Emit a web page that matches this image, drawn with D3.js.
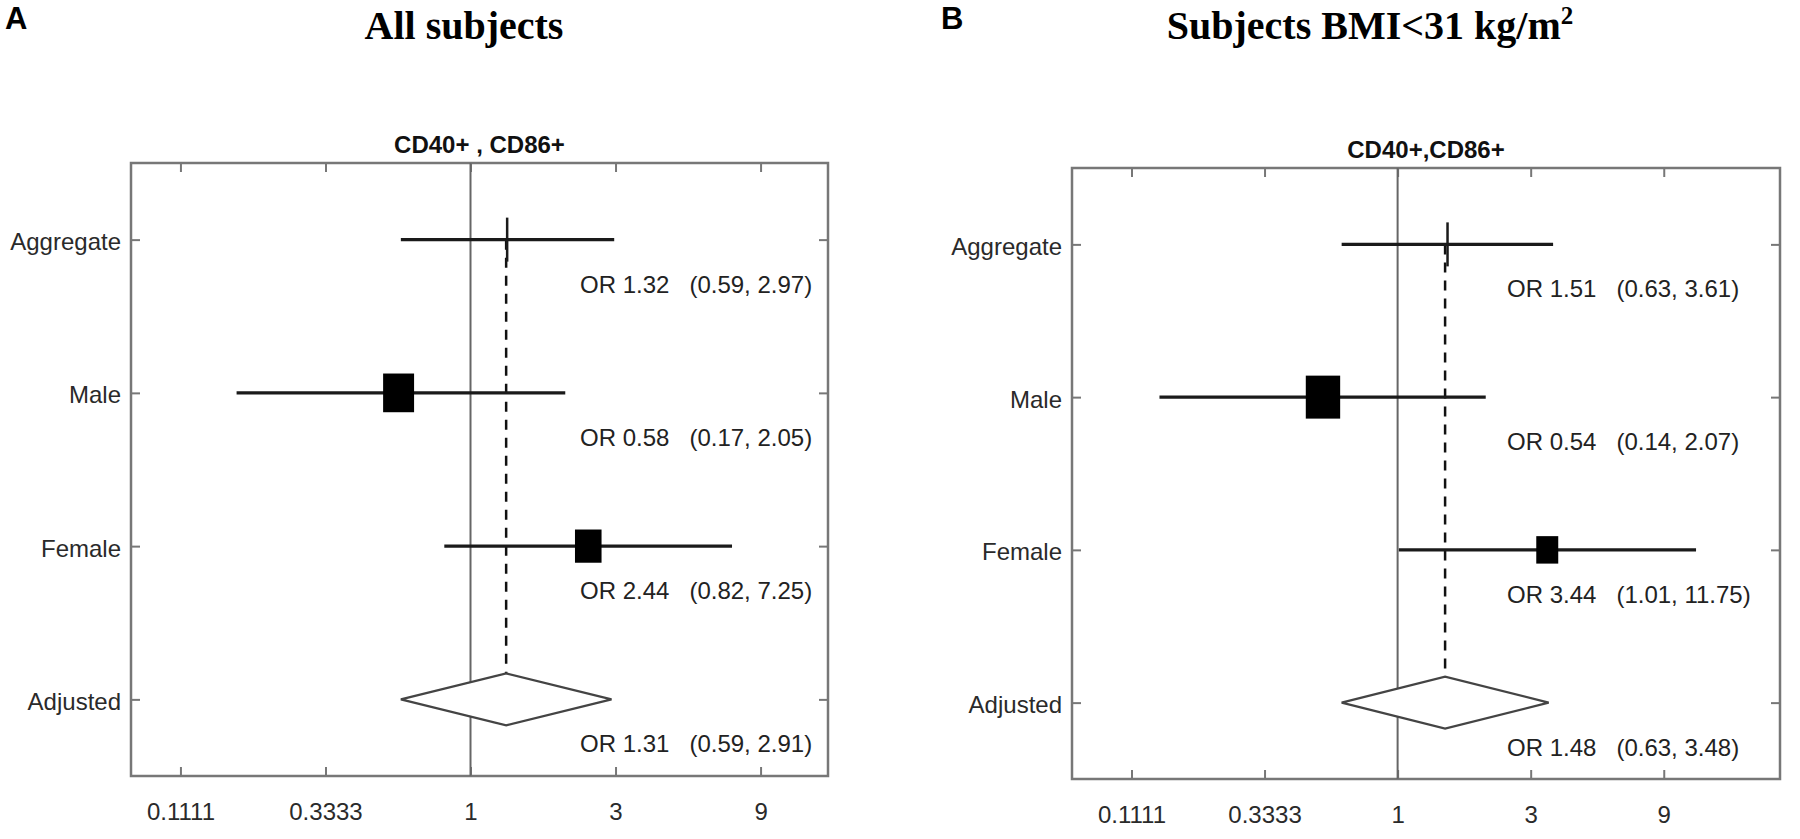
<!DOCTYPE html>
<html>
<head>
<meta charset="utf-8">
<script src="https://cdn.jsdelivr.net/npm/d3@7"></script>
<style>
  body { margin: 0; background: #fff; }
  svg { display: block; }
  .ortext { white-space: pre; }
</style>
</head>
<body>
<svg id="chart" width="1800" height="839"></svg>
<script>
// rows, shared by both panels
const rows = ["Aggregate", "Male", "Female", "Adjusted"]
const tickValues = [1 / 9, 1 / 3, 1, 3, 9]
const tickLabels = ["0.1111", "0.3333", "1", "3", "9"]

// panel A: all subjects
const orA = [1.32, 0.58, 2.44, 1.31]
const loA = [0.59, 0.17, 0.82, 0.59]
const hiA = [2.97, 2.05, 7.25, 2.91]
const weightA = [null, 57.6, 42.4, null]
const xLimA = [0.0764, 15.0]

// panel B: subjects BMI < 31
const orB = [1.51, 0.54, 3.44, 1.48]
const loB = [0.63, 0.14, 1.01, 0.63]
const hiB = [3.61, 2.07, 11.75, 3.48]
const weightB = [null, 71, 29, null]
const xLimB = [0.068, 23.5]

const sans = "'Liberation Sans', Arial, sans-serif"
const serif = "'Liberation Serif', 'Times New Roman', serif"
const fmt = d3.format(".2f")

const svg = d3.select("#chart")

function drawPanel(opts) {
  const x = d3.scaleLog().domain(opts.xLim).range([opts.left, opts.right])
  const y = d3.scaleLinear().domain([0.5, rows.length + 0.5]).range([opts.top, opts.bottom])
  const g = svg.append("g")

  // panel letter and titles
  g.append("text")
    .attr("x", opts.letterX).attr("y", 29)
    .attr("font-family", sans).attr("font-weight", "bold").attr("font-size", 31)
    .text(opts.letter)

  const title = g.append("text")
    .attr("x", opts.titleX).attr("y", 39)
    .attr("text-anchor", "middle")
    .attr("font-family", serif).attr("font-weight", "bold").attr("font-size", 40)
  title.append("tspan").text(opts.title)
  if (opts.titleSup) {
    title.append("tspan").attr("dy", -15).attr("font-size", 25).text(opts.titleSup)
  }

  g.append("text")
    .attr("x", (opts.left + opts.right) / 2).attr("y", opts.top - 10)
    .attr("text-anchor", "middle")
    .attr("font-family", sans).attr("font-weight", "bold").attr("font-size", 24)
    .attr("fill", "#111")
    .text(opts.subtitle)

  // axes (ticks pointing inward, matlab box style)
  const axisStyle = sel => {
    sel.select(".domain").remove()
    sel.selectAll(".tick line").attr("stroke", "#777").attr("stroke-width", 2)
    sel.selectAll(".tick text").attr("fill", "#2a2a2a")
    sel.attr("font-family", sans).attr("font-size", 24)
  }
  g.append("g")
    .attr("transform", `translate(0,${opts.bottom})`)
    .call(d3.axisBottom(x).tickValues(tickValues).tickSize(-9).tickPadding(27)
      .tickFormat((d, i) => tickLabels[i]))
    .call(axisStyle)
  g.append("g")
    .attr("transform", `translate(0,${opts.top})`)
    .call(d3.axisTop(x).tickValues(tickValues).tickSize(-9).tickFormat(""))
    .call(axisStyle)
  g.append("g")
    .attr("transform", `translate(${opts.left},0)`)
    .call(d3.axisLeft(y).tickValues(d3.range(1, rows.length + 1)).tickSize(-9).tickPadding(10)
      .tickFormat(d => rows[d - 1]))
    .call(axisStyle)
    .selectAll(".tick text").attr("dy", "0.42em")
  g.append("g")
    .attr("transform", `translate(${opts.right},0)`)
    .call(d3.axisRight(y).tickValues(d3.range(1, rows.length + 1)).tickSize(-9).tickFormat(""))
    .call(axisStyle)

  // frame
  g.append("rect")
    .attr("x", opts.left).attr("y", opts.top)
    .attr("width", opts.right - opts.left).attr("height", opts.bottom - opts.top)
    .attr("fill", "none").attr("stroke", "#777").attr("stroke-width", 2.5)

  // line of no effect
  g.append("line")
    .attr("x1", x(1)).attr("x2", x(1))
    .attr("y1", opts.top).attr("y2", opts.bottom)
    .attr("stroke", "#666").attr("stroke-width", 2)

  const data = rows.map((r, i) => ({
    row: r, pos: i + 1, or: opts.or[i], lo: opts.lo[i], hi: opts.hi[i], weight: opts.weight[i]
  }))
  const studies = data.slice(0, 3)
  const pooled = data[3]
  const diamondHalf = 26

  // dashed line at the pooled estimate
  g.append("line")
    .attr("x1", x(pooled.or)).attr("x2", x(pooled.or))
    .attr("y1", y(1)).attr("y2", y(pooled.pos) - diamondHalf)
    .attr("stroke", "#111").attr("stroke-width", 2.5)
    .attr("stroke-dasharray", "10,8")

  // confidence intervals
  g.selectAll(".ci").data(studies).enter().append("line")
    .attr("class", "ci")
    .attr("x1", d => x(d.lo)).attr("x2", d => x(d.hi))
    .attr("y1", d => y(d.pos)).attr("y2", d => y(d.pos))
    .attr("stroke", "#1a1a1a").attr("stroke-width", 3.2)

  // weighted boxes
  const boxH = d => 5.1 * Math.sqrt(d.weight)
  g.selectAll(".box").data(studies.filter(d => d.weight != null)).enter().append("rect")
    .attr("class", "box")
    .attr("x", d => x(d.or) - boxH(d) * 0.4).attr("y", d => y(d.pos) - boxH(d) / 2)
    .attr("width", d => boxH(d) * 0.8).attr("height", d => boxH(d))
    .attr("fill", "#000")

  // aggregate marker
  g.selectAll(".agg").data(studies.filter(d => d.weight == null)).enter().append("line")
    .attr("class", "agg")
    .attr("x1", d => x(d.or)).attr("x2", d => x(d.or))
    .attr("y1", d => y(d.pos) - 22).attr("y2", d => y(d.pos) + 22)
    .attr("stroke", "#1a1a1a").attr("stroke-width", 2.5)

  // pooled diamond
  g.append("path")
    .datum(pooled)
    .attr("d", d => {
      const cy = y(d.pos)
      return `M${x(d.lo)},${cy}L${x(d.or)},${cy - diamondHalf}L${x(d.hi)},${cy}L${x(d.or)},${cy + diamondHalf}Z`
    })
    .attr("fill", "#fff").attr("stroke", "#444").attr("stroke-width", 2.2)

  // OR annotations
  g.selectAll(".ortext").data(data).enter().append("text")
    .attr("class", "ortext")
    .attr("x", opts.left + opts.labelOffset).attr("y", d => y(d.pos) + 53)
    .attr("font-family", sans).attr("font-size", 24).attr("fill", "#222")
    .text(d => `OR ${fmt(d.or)}   (${fmt(d.lo)}, ${fmt(d.hi)})`)
}

drawPanel({
  letter: "A", letterX: 5, title: "All subjects", titleX: 464,
  subtitle: "CD40+ , CD86+",
  left: 131, right: 828, top: 163, bottom: 776, labelOffset: 449,
  xLim: xLimA, or: orA, lo: loA, hi: hiA, weight: weightA
})

drawPanel({
  letter: "B", letterX: 941, title: "Subjects BMI<31 kg/m", titleSup: "2", titleX: 1370,
  subtitle: "CD40+,CD86+",
  left: 1072, right: 1780, top: 168, bottom: 779, labelOffset: 435,
  xLim: xLimB, or: orB, lo: loB, hi: hiB, weight: weightB
})
</script>
</body>
</html>
